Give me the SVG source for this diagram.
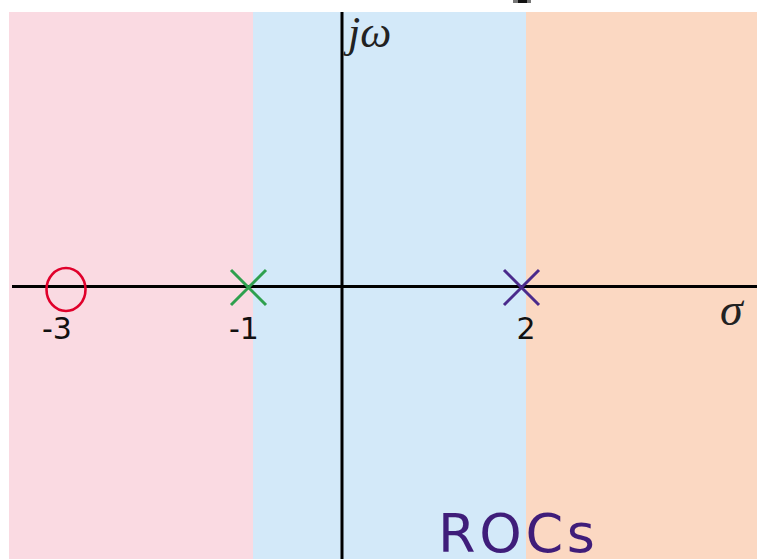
<svg xmlns="http://www.w3.org/2000/svg" width="757" height="559" viewBox="0 0 757 559">
  <style>
    .lbl { font-family: "DejaVu Sans", sans-serif; font-size: 30px; fill: #111; text-anchor: middle; }
    .math { font-family: "Liberation Serif", "DejaVu Serif", serif; font-style: italic; fill: #222; }
    .axis { stroke: #000; stroke-width: 3; fill: none; }
  </style>
  <rect x="0" y="0" width="757" height="559" fill="#ffffff"/>
  <g id="regions">
    <rect x="9" y="12" width="244" height="547" fill="#fadae2"/>
    <rect x="253" y="12" width="273" height="547" fill="#d3e9f9"/>
    <rect x="526" y="12" width="231" height="547" fill="#fbd8c2"/>
  </g>
  <rect x="513" y="0" width="18" height="3" fill="#777"/>
  <rect x="518" y="0" width="9" height="3" fill="#111"/>
  <g id="connectors">
    <line class="axis" x1="12" y1="286.5" x2="757" y2="286.5"/>
    <line class="axis" x1="342" y1="12" x2="342" y2="559"/>
  </g>
  <g id="zero-minus3">
    <ellipse cx="66" cy="289.5" rx="19.5" ry="21.5" fill="none" stroke="#e0002b" stroke-width="2.6"/>
    <text class="lbl" x="57" y="339">-3</text>
  </g>
  <g id="pole-minus1">
    <path d="M231 270 L266 305 M266 270 L231 305" stroke="#2fa04e" stroke-width="3" fill="none"/>
    <text class="lbl" x="244" y="339">-1</text>
  </g>
  <g id="pole-2">
    <path d="M504 270 L539 305 M539 270 L504 305" stroke="#4a2a8c" stroke-width="3" fill="none"/>
    <text class="lbl" x="526" y="339">2</text>
  </g>
  <g id="axis-labels">
    <text class="math" x="348" y="47" font-size="44">jω</text>
    <text class="math" x="720" y="325" font-size="46">σ</text>
  </g>
  <g id="rocs-label">
    <text x="438" y="552" font-family="DejaVu Sans, sans-serif" font-size="54" fill="#3f1d7a" textLength="157" lengthAdjust="spacing">ROCs</text>
  </g>
</svg>
